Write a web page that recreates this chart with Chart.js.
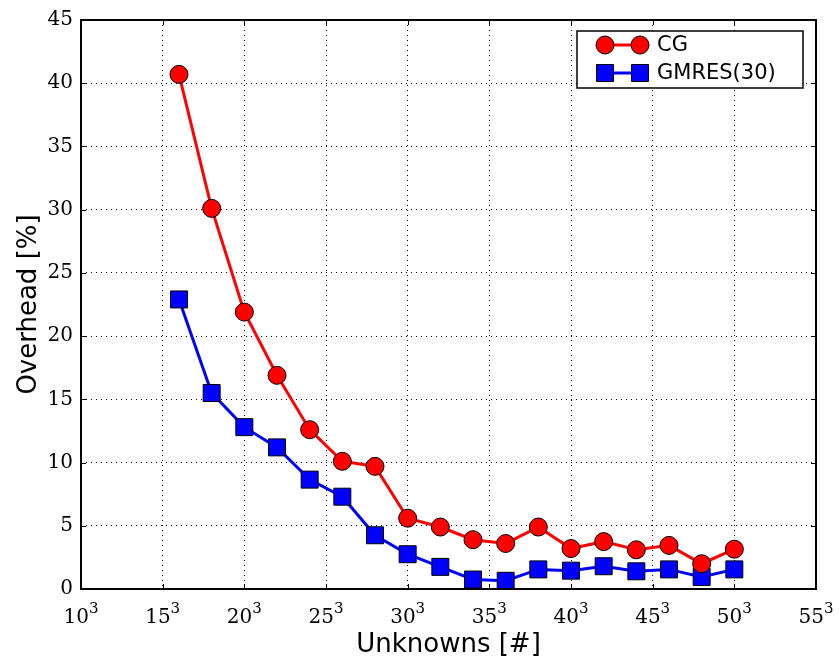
<!DOCTYPE html>
<html>
<head>
<meta charset="utf-8">
<script src="https://cdn.jsdelivr.net/npm/chart.js@4"></script>
<style>
  body { margin: 0; background: #fff; }
  #wrap { width: 839px; height: 665px; }
</style>
</head>
<body>
<div id="wrap"><canvas id="c" width="839" height="665"></canvas></div>
<script>
// unknowns, as the cube root (N^3 on the axis)
const sizes = [16, 18, 20, 22, 24, 26, 28, 30, 32, 34, 36, 38, 40, 42, 44, 46, 48, 50];
const cgOverhead = [40.7, 30.1, 21.9, 16.9, 12.6, 10.1, 9.7, 5.6, 4.9, 3.9, 3.6, 4.9, 3.2, 3.75, 3.1, 3.45, 2.0, 3.15];
const gmresOverhead = [22.9, 15.5, 12.8, 11.2, 8.65, 7.3, 4.25, 2.75, 1.75, 0.75, 0.65, 1.55, 1.45, 1.8, 1.4, 1.55, 0.95, 1.55];
const xTicks = [10, 15, 20, 25, 30, 35, 40, 45, 50, 55];
const yTicks = [0, 5, 10, 15, 20, 25, 30, 35, 40, 45];

const serif = "'DejaVu Serif', 'Liberation Serif', serif";
const tickFont = { family: serif, size: 20 };
const titleFont = { family: "'DejaVu Sans', sans-serif", size: 26 };

const toPoints = (vals) => sizes.map((s, i) => ({ x: s, y: vals[i] }));

// frame, inward ticks on all sides, N^3 labels and the boxed legend
const framePlugin = {
  id: "frame",
  afterDraw(chart) {
    const { ctx, chartArea: a, scales } = chart;
    ctx.save();
    ctx.strokeStyle = "#000";
    ctx.lineWidth = 1;
    ctx.setLineDash([]);
    const t = 5;
    xTicks.forEach((v) => {
      const px = Math.round(scales.x.getPixelForValue(v)) + 0.5;
      ctx.beginPath();
      ctx.moveTo(px, a.bottom); ctx.lineTo(px, a.bottom - t);
      ctx.moveTo(px, a.top); ctx.lineTo(px, a.top + t);
      ctx.stroke();
    });
    yTicks.forEach((v) => {
      const py = Math.round(scales.y.getPixelForValue(v)) + 0.5;
      ctx.beginPath();
      ctx.moveTo(a.left, py); ctx.lineTo(a.left + t, py);
      ctx.moveTo(a.right, py); ctx.lineTo(a.right - t, py);
      ctx.stroke();
    });
    ctx.lineWidth = 2;
    ctx.strokeRect(a.left, a.top, a.right - a.left, a.bottom - a.top);

    // x tick labels with a raised 3
    ctx.fillStyle = "#000";
    ctx.textBaseline = "alphabetic";
    ctx.textAlign = "left";
    xTicks.forEach((v) => {
      const px = scales.x.getPixelForValue(v);
      const base = String(v);
      ctx.font = `20px ${serif}`;
      const wb = ctx.measureText(base).width;
      ctx.font = `15px ${serif}`;
      const ws = ctx.measureText("3").width;
      const x0 = px - (wb + ws) / 2;
      ctx.font = `20px ${serif}`;
      ctx.fillText(base, x0, a.bottom + 34);
      ctx.font = `15px ${serif}`;
      ctx.fillText("3", x0 + wb, a.bottom + 24);
    });

    // legend
    const bx = a.right - 239, by = a.top + 11, bw = 226, bh = 57;
    ctx.fillStyle = "#fff";
    ctx.fillRect(bx, by, bw, bh);
    ctx.lineWidth = 1.5;
    ctx.strokeRect(bx, by, bw, bh);
    chart.data.datasets.forEach((ds, i) => {
      const y = by + 14 + i * 28;
      const x1 = bx + 28, x2 = bx + 63;
      ctx.strokeStyle = ds.borderColor;
      ctx.lineWidth = ds.borderWidth;
      ctx.beginPath(); ctx.moveTo(x1, y); ctx.lineTo(x2, y); ctx.stroke();
      ctx.fillStyle = ds.pointBackgroundColor;
      ctx.strokeStyle = "#000";
      ctx.lineWidth = 1;
      [x1, x2].forEach((x) => {
        ctx.beginPath();
        if (ds.pointStyle === "rect") {
          const s = Math.SQRT1_2 * ds.pointRadius;
          ctx.rect(x - s, y - s, 2 * s, 2 * s);
        } else {
          ctx.arc(x, y, ds.pointRadius, 0, Math.PI * 2);
        }
        ctx.fill(); ctx.stroke();
      });
      ctx.fillStyle = "#000";
      ctx.font = "21px 'DejaVu Sans', sans-serif";
      ctx.textBaseline = "middle";
      ctx.textAlign = "left";
      ctx.fillText(ds.label, bx + 80, y + 1);
    });
    ctx.restore();
  },
};

new Chart(document.getElementById("c"), {
  type: "line",
  data: {
    datasets: [
      {
        label: "CG",
        data: toPoints(cgOverhead),
        borderColor: "#ff0000",
        backgroundColor: "#ff0000",
        pointBackgroundColor: "#ff0000",
        pointBorderColor: "#000",
        pointBorderWidth: 1,
        pointStyle: "circle",
        pointRadius: 9,
        pointHoverRadius: 9,
        borderWidth: 3,
        tension: 0,
      },
      {
        label: "GMRES(30)",
        data: toPoints(gmresOverhead),
        borderColor: "#0000ff",
        backgroundColor: "#0000ff",
        pointBackgroundColor: "#0000ff",
        pointBorderColor: "#000",
        pointBorderWidth: 1,
        pointStyle: "rect",
        pointRadius: 12,
        pointHoverRadius: 12,
        borderWidth: 3,
        tension: 0,
      },
    ],
  },
  options: {
    responsive: false,
    animation: false,
    layout: { padding: { top: 17, right: 23, left: 0, bottom: 0 } },
    plugins: {
      legend: { display: false },
      tooltip: { enabled: false },
    },
    scales: {
      x: {
        type: "linear",
        min: 10,
        max: 55,
        afterBuildTicks: (s) => { s.ticks = xTicks.map((v) => ({ value: v })); },
        ticks: { display: false },
        grid: { color: "#000", lineWidth: 1, drawTicks: false },
        border: { display: false, dash: [1, 4] },
        title: { display: true, text: "Unknowns [#]", color: "#000", font: titleFont, padding: { top: 0, bottom: 4 } },
        afterFit: (s) => { s.height = 76; },
      },
      y: {
        min: 0,
        max: 45,
        afterBuildTicks: (s) => { s.ticks = yTicks.map((v) => ({ value: v })); },
        ticks: { color: "#000", font: tickFont, padding: 8 },
        grid: { color: "#000", lineWidth: 1, drawTicks: false },
        border: { display: false, dash: [1, 4] },
        title: { display: true, text: "Overhead [%]", color: "#000", font: titleFont, padding: { top: 14, bottom: 0 } },
        afterFit: (s) => { s.width = 81; },
      },
    },
  },
  plugins: [framePlugin],
});
</script>
</body>
</html>
